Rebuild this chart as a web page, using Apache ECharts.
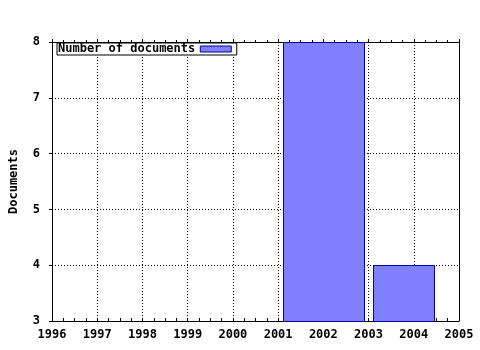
<!DOCTYPE html>
<html>
<head>
<meta charset="utf-8">
<script src="https://cdn.jsdelivr.net/npm/echarts@6/dist/echarts.min.js"></script>
<style>html,body{margin:0;padding:0;background:#fff}#c{width:480px;height:350px}</style>
</head>
<body>
<div id="c"></div>
<script>
var seriesName = 'Number of documents';
var barStart = [2001.1, 2003.1];
var barEnd = [2002.9, 2004.45];
var barValues = [8, 4];
var xMin = 1996, xMax = 2005;
var yMin = 3, yMax = 8;
var yTitle = 'Documents';

var data = barStart.map(function (s, i) { return [s, barEnd[i], barValues[i]]; });
var FONT = '"DejaVu Sans Mono", monospace';
var chart = echarts.init(document.getElementById('c'), null, {renderer: 'canvas'});
chart.setOption({
  animation: false,
  backgroundColor: '#fff',
  grid: {left: 50, right: 21, top: 42, bottom: 29, containLabel: false},
  legend: {
    show: true,
    left: 57, top: 43,
    align: 'right',
    icon: 'rect',
    itemWidth: 31, itemHeight: 6,
    padding: [0, 5, 0, 1],
    backgroundColor: '#fff',
    borderColor: '#000', borderWidth: 1, borderRadius: 0,
    itemStyle: {color: '#8080ff', borderColor: '#0000a0', borderWidth: 1},
    textStyle: {fontFamily: FONT, fontWeight: 'bold', fontSize: 12, color: '#000', padding: [1, 0, 0, 0]},
    data: [seriesName]
  },
  xAxis: [{
    type: 'value', min: xMin, max: xMax, interval: 1, position: 'bottom',
    axisLine: {show: true, onZero: false, lineStyle: {color: '#000', width: 1}},
    axisTick: {show: true, inside: true, length: 3, lineStyle: {color: '#000'}},
    minorTick: {show: true, splitNumber: 4, length: 3, lineStyle: {color: '#000'}},
    axisLabel: {fontFamily: FONT, fontWeight: 'bold', fontSize: 12, color: '#000', margin: 8,
      formatter: function (v) { return String(v); }},
    splitLine: {show: true, lineStyle: {color: '#000', type: [1, 2], width: 1}}
  }, {
    type: 'value', min: xMin, max: xMax, interval: 1, position: 'top',
    axisLine: {show: true, onZero: false, lineStyle: {color: '#000', width: 1}},
    axisTick: {show: true, inside: false, length: 3, lineStyle: {color: '#000'}},
    minorTick: {show: true, splitNumber: 4, length: 2, lineStyle: {color: '#000'}},
    axisLabel: {show: false},
    splitLine: {show: false}
  }],
  yAxis: [{
    type: 'value', min: yMin, max: yMax, interval: 1, position: 'left',
    name: yTitle, nameLocation: 'middle', nameGap: 32, nameRotate: 90,
    nameTextStyle: {fontFamily: FONT, fontWeight: 'bold', fontSize: 12, color: '#000'},
    axisLine: {show: true, onZero: false, lineStyle: {color: '#000', width: 1}},
    axisTick: {show: true, inside: false, length: 3, lineStyle: {color: '#000'}},
    axisLabel: {fontFamily: FONT, fontWeight: 'bold', fontSize: 12, color: '#000', margin: 12},
    splitLine: {show: true, lineStyle: {color: '#000', type: [1, 2], width: 1}}
  }, {
    type: 'value', min: yMin, max: yMax, interval: 1, position: 'right',
    axisLine: {show: true, onZero: false, lineStyle: {color: '#000', width: 1}},
    axisTick: {show: false}, axisLabel: {show: false}, splitLine: {show: false}
  }],
  series: [{
    name: seriesName,
    type: 'custom',
    xAxisIndex: 0, yAxisIndex: 0,
    itemStyle: {color: '#8080ff', borderColor: '#0000a0', borderWidth: 1},
    encode: {x: [0, 1], y: 2},
    data: data,
    renderItem: function (params, api) {
      var p0 = api.coord([api.value(0), api.value(2)]);
      var p1 = api.coord([api.value(1), yMin]);
      return {
        type: 'rect',
        shape: {x: Math.round(p0[0]) + 0.5, y: Math.round(p0[1]) + 0.5,
                width: Math.round(p1[0] - p0[0]), height: Math.round(p1[1] - p0[1])},
        style: {fill: '#8080ff', stroke: '#0000a0', lineWidth: 1}
      };
    }
  }]
});
</script>
</body>
</html>
